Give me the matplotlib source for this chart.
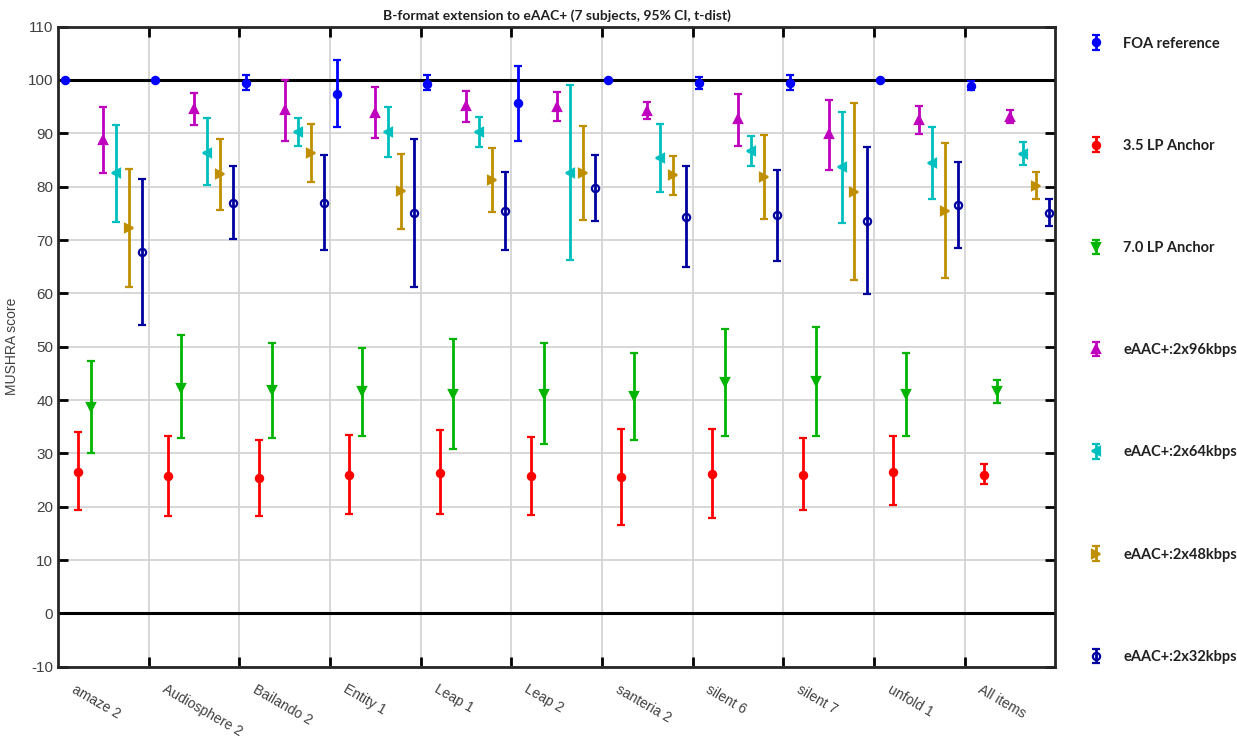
import matplotlib
matplotlib.use('Agg')
import matplotlib.pyplot as plt
import numpy as np

plt.rcParams['font.family'] = 'Liberation Sans'
plt.rcParams['axes.unicode_minus'] = False

items = ['amaze 2', 'Audiosphere 2', 'Bailando 2', 'Entity 1', 'Leap 1', 'Leap 2',
         'santeria 2', 'silent 6', 'silent 7', 'unfold 1', 'All items']

conditions = ['FOA reference', '3.5 LP Anchor', '7.0 LP Anchor', 'eAAC+:2x96kbps',
              'eAAC+:2x64kbps', 'eAAC+:2x48kbps', 'eAAC+:2x32kbps']

# means, lower CI bound, upper CI bound per condition (one value per item)
foa_mean = [100.0, 100.0, 99.5, 97.4, 99.3, 95.6, 100.0, 99.5, 99.5, 100.0, 98.9]
foa_lo   = [100.0, 100.0, 98.1, 91.2, 98.1, 88.6, 100.0, 98.4, 98.1, 100.0, 98.1]
foa_hi   = [100.0, 100.0, 100.9, 103.8, 100.9, 102.6, 100.0, 100.6, 100.9, 100.0, 99.8]

lp35_mean = [26.6, 25.7, 25.4, 26.0, 26.4, 25.7, 25.5, 26.2, 26.0, 26.5, 26.0]
lp35_lo   = [19.3, 18.3, 18.3, 18.6, 18.6, 18.5, 16.5, 17.9, 19.3, 20.3, 24.2]
lp35_hi   = [34.0, 33.3, 32.6, 33.5, 34.3, 33.1, 34.5, 34.5, 32.8, 33.2, 28.0]

lp70_mean = [38.7, 42.3, 41.8, 41.6, 41.2, 41.2, 40.8, 43.4, 43.5, 41.1, 41.6]
lp70_lo   = [30.0, 32.8, 32.8, 33.3, 30.8, 31.8, 32.6, 33.2, 33.3, 33.3, 39.4]
lp70_hi   = [47.4, 52.1, 50.6, 49.8, 51.5, 50.6, 48.9, 53.4, 53.6, 48.8, 43.8]

k96_mean = [88.7, 94.5, 94.3, 93.8, 95.1, 95.0, 94.2, 92.6, 89.8, 92.5, 93.1]
k96_lo   = [82.6, 91.5, 88.6, 89.1, 92.1, 92.4, 92.6, 87.7, 83.2, 89.8, 91.9]
k96_hi   = [95.0, 97.6, 100.0, 98.7, 98.0, 97.7, 95.8, 97.4, 96.2, 95.1, 94.3]

k64_mean = [82.5, 86.4, 90.3, 90.2, 90.3, 82.6, 85.3, 86.6, 83.7, 84.4, 86.2]
k64_lo   = [73.4, 80.3, 87.7, 85.6, 87.5, 66.2, 79.0, 83.8, 73.2, 77.6, 84.1]
k64_hi   = [91.6, 92.8, 92.9, 95.0, 93.1, 99.0, 91.7, 89.5, 94.0, 91.1, 88.3]

k48_mean = [72.2, 82.3, 86.4, 79.2, 81.3, 82.6, 82.1, 81.8, 79.0, 75.4, 80.2]
k48_lo   = [61.2, 75.7, 80.9, 72.1, 75.3, 73.7, 78.4, 73.9, 62.5, 62.9, 77.7]
k48_hi   = [83.4, 88.9, 91.7, 86.1, 87.2, 91.4, 85.8, 89.6, 95.6, 88.1, 82.7]

k32_mean = [67.7, 76.9, 77.0, 75.0, 75.5, 79.7, 74.4, 74.6, 73.6, 76.6, 75.1]
k32_lo   = [54.0, 70.1, 68.2, 61.2, 68.1, 73.5, 65.0, 66.0, 59.9, 68.5, 72.6]
k32_hi   = [81.4, 83.8, 85.9, 88.9, 82.8, 86.0, 83.9, 83.2, 87.5, 84.7, 77.6]

means = [foa_mean, lp35_mean, lp70_mean, k96_mean, k64_mean, k48_mean, k32_mean]
lows = [foa_lo, lp35_lo, lp70_lo, k96_lo, k64_lo, k48_lo, k32_lo]
highs = [foa_hi, lp35_hi, lp70_hi, k96_hi, k64_hi, k48_hi, k32_hi]

colors = ['#0000ff', '#ff0000', '#00b400', '#bf00bf', '#00bfbf', '#bf8f00', '#0000a0']
markers = ['o', 'o', 'v', '^', '<', '>', 'o']
filled = [True, True, True, True, True, True, False]

fig = plt.figure(figsize=(12.37, 7.4), dpi=100)
ax = fig.add_axes([0.047, 0.099, 0.806, 0.865])

n = len(conditions)
base = np.arange(len(items))
handles = []
for j in range(n):
    m = np.array(means[j])
    lo = m - np.array(lows[j])
    hi = np.array(highs[j]) - m
    xpos = base + (j + 0.5) / n
    h = ax.errorbar(xpos, m, yerr=[lo, hi], fmt=markers[j], color=colors[j],
                    ecolor=colors[j], elinewidth=2.0, capsize=3, capthick=2.0,
                    markersize=5.2, markeredgewidth=1.6,
                    markerfacecolor=colors[j] if filled[j] else 'none',
                    markeredgecolor=colors[j], label=conditions[j], zorder=3)
    handles.append(h)

ax.axhline(100, color='black', lw=2.2, zorder=2)
ax.axhline(0, color='black', lw=2.2, zorder=2)

ax.set_xlim(0, len(items))
ax.set_ylim(-10, 110)
ax.set_yticks(np.arange(-10, 111, 10))
ax.set_xticks(np.arange(1, len(items)))
ax.set_xticklabels([])
ax.set_xticks(base + 0.2, minor=True)
ax.set_xticklabels(items, minor=True, rotation=-30, ha='left', va='top',
                   rotation_mode='anchor', color='#404040', fontsize=10)
ax.tick_params(axis='x', which='minor', length=0, pad=11)
ax.tick_params(axis='both', which='major', direction='in', length=7, width=2,
               top=True, right=True, colors='black', labelcolor='#404040', labelsize=11)

ax.grid(True, which='major', color='#d4d4d4', lw=1.3)
ax.set_axisbelow(True)
for s in ax.spines.values():
    s.set_linewidth(2)
    s.set_color('#262626')

ax.set_ylabel('MUSHRA score', color='#404040', fontsize=10, labelpad=6)
ax.set_title('B-format extension to eAAC+ (7 subjects, 95% CI, t-dist)',
             fontsize=10, fontweight='bold', family='Lato', color='#202020', pad=5)

leg = ax.legend(handles=handles, loc='upper left', bbox_to_anchor=(1.02, 1.005),
                frameon=False, labelspacing=6.05, handlelength=1.0, handletextpad=1.4,
                prop={'family': 'Lato', 'weight': 'bold', 'size': 10.5})
for t in leg.get_texts():
    t.set_color('#202020')

fig.savefig('out.png', dpi=100, facecolor='white')
